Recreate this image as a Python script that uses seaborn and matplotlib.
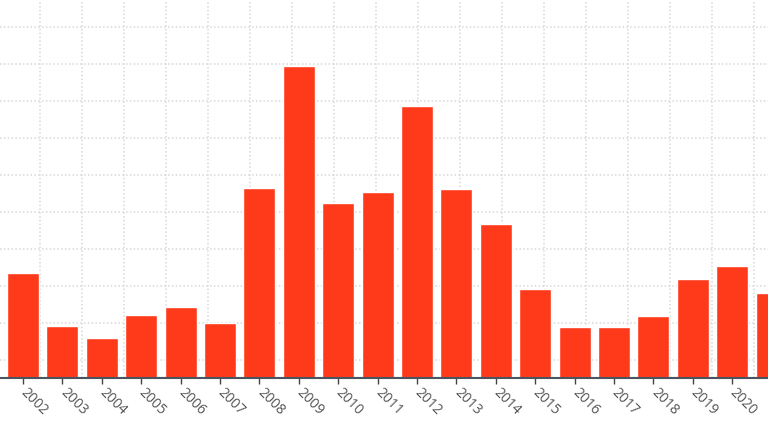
import numpy as np
import pandas as pd
import matplotlib
matplotlib.use('Agg')
import matplotlib.pyplot as plt
import seaborn as sns

# Values
years = [2002, 2003, 2004, 2005, 2006, 2007, 2008, 2009, 2010, 2011,
         2012, 2013, 2014, 2015, 2016, 2017, 2018, 2019, 2020, 2021]
counts = [28.3, 14, 10.8, 17, 19.2, 14.9, 51.3, 84.3, 47.3, 50.3,
          73.5, 51.1, 41.6, 24, 13.8, 13.8, 16.8, 26.8, 30.2, 23]

df = pd.DataFrame({'year': [str(y) for y in years], 'count': counts})

sns.set_style('white')
plt.rcParams['font.family'] = ['Open Sans', 'DejaVu Sans']

fig = plt.figure(figsize=(7.68, 4.32), dpi=100)
ax = fig.add_axes([0, 0.125, 1, 0.875])

# light dotted grid behind bars
ax.set_axisbelow(True)
ax.set_yticks(np.arange(5, 100, 10))
ax.set_xticks(0.4316 + 1.0663 * np.arange(0, 18), minor=True)
ax.grid(True, axis='y', which='major', color='#d8d8d8', linestyle=(0, (1, 1.5)), linewidth=1.1)
ax.grid(True, axis='x', which='minor', color='#d8d8d8', linestyle=(0, (1, 1.5)), linewidth=1.1)

sns.barplot(data=df, x='year', y='count', color='#ff3a1a', saturation=1,
            width=0.81, ax=ax)

ax.set_xlim(-0.584, 18.91)
ax.set_ylim(0, 102.2)
ax.set_xlabel('')
ax.set_ylabel('')
ax.tick_params(axis='y', left=False, labelleft=False)
ax.tick_params(axis='x', which='major', bottom=True, length=4, width=1,
               color='#444444', labelcolor='#555555', labelsize=10, pad=5)
ax.tick_params(axis='x', which='minor', bottom=False, length=0)
plt.setp(ax.get_xticklabels(), rotation=-45, ha='left', va='center',
         rotation_mode='anchor')

for side in ['top', 'left', 'right']:
    ax.spines[side].set_visible(False)
ax.spines['bottom'].set_color('#4a5560')
ax.spines['bottom'].set_linewidth(1.5)

fig.savefig('out.png', dpi=100)
